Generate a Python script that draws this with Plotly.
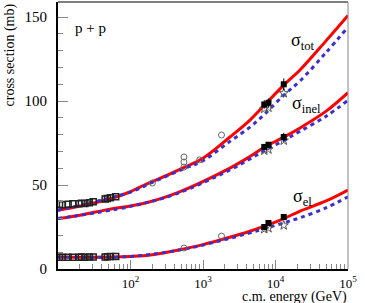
import plotly.graph_objects as go

# ---- model curves (sqrt(s) in GeV, cross sections in mb) ----
e_red_tot = [10, 20, 50, 100, 135, 200, 562, 1000, 2355, 4450, 7000, 13000, 21800, 50000, 100000]
red_tot = [35, 37.5, 41.5, 46, 48.8, 52, 60.7, 66, 78.6, 88.7, 97.5, 109.5, 118.5, 136, 151]
e_blue_tot = [10, 100, 200, 562, 1000, 2355, 4450, 7000, 13000, 21800, 50000, 100000]
blue_tot = [35, 45.8, 51.6, 60, 64.5, 76, 84.5, 92, 103.5, 112, 129, 144]

e_red_inel = [10, 20, 50, 100, 160, 430, 2355, 4450, 7000, 13000, 21800, 50000, 100000]
red_inel = [30, 32, 35.5, 37.5, 39.3, 45.2, 60.1, 67, 72.5, 78.5, 84, 94, 105]
e_blue_inel = [10, 100, 430, 2355, 4450, 7000, 13000, 21800, 50000, 100000]
blue_inel = [30, 37.3, 44.8, 59, 65.5, 70.5, 76.5, 82, 91, 100.5]

e_red_el = [10, 30, 100, 200, 546, 1000, 1800, 4450, 7000, 13000, 21800, 50000, 100000]
red_el = [7.2, 7.0, 7.5, 8.5, 12, 14.5, 17.5, 22.5, 25.5, 30, 34.5, 40.5, 47]
e_blue_el = [10, 100, 546, 1800, 4450, 7000, 13000, 21800, 50000, 100000]
blue_el = [7.2, 7.5, 11.8, 17, 21.5, 24, 27.5, 30.5, 36.5, 43]

# ---- data points ----
e_low = [10.5, 11.5, 13.8, 16, 19.4, 21, 23.5, 27, 30.6, 44.7, 48, 52.8, 62.5]
tot_low = [38.5, 38.3, 38.6, 38.8, 38.9, 39.2, 39.0, 39.5, 40.0, 41.7, 42.0, 42.4, 43.0]
el_low = [7.0, 7.0, 7.0, 7.0, 7.0, 7.1, 7.0, 7.1, 7.1, 7.2, 7.3, 7.4, 7.5]

e_coll_tot = [200, 546, 546, 546, 900, 1800]
coll_tot = [51.2, 60.7, 63.7, 66.7, 65, 79.8]
e_coll_el = [546, 1800]
coll_el = [12.5, 19.6]

e_lhc = [7000, 8000, 13000]
lhc_tot = [98, 99, 110]
lhc_tot_err = [2.5, 2.5, 3.5]
lhc_inel = [72.7, 74, 78.6]
lhc_inel_err = [1.5, 1.5, 2.5]
lhc_el = [25, 27.4, 31]
lhc_el_err = [1.0, 1.5, 1.5]

e_star = [7000, 8000, 13000]
star_tot = [95.4, 96.1, 104.7]
star_inel = [70.5, 71.2, 76.5]
star_el = [23.8, 24.3, 26.0]

xtick_vals = [100, 1000, 10000, 100000]
xtick_text = ["10<sup>2</sup>", "10<sup>3</sup>", "10<sup>4</sup>", "10<sup>5</sup>"]
ytick_vals = [0, 50, 100, 150]
ytick_text = ["0", "50", "100", "150"]

RED = "#ff0000"
BLUE = "#3a2fd0"
FONT = "Liberation Serif, Times New Roman, serif"

fig = go.Figure()

for ex, ys in [(e_red_tot, red_tot), (e_red_inel, red_inel), (e_red_el, red_el)]:
    fig.add_trace(go.Scatter(x=ex, y=ys, mode="lines", line=dict(color=RED, width=3, shape="spline"),
                             showlegend=False, hoverinfo="skip"))
for ex, ys in [(e_blue_tot, blue_tot), (e_blue_inel, blue_inel), (e_blue_el, blue_el)]:
    fig.add_trace(go.Scatter(x=ex, y=ys, mode="lines",
                             line=dict(color=BLUE, width=3, dash="4px,4px", shape="spline"),
                             showlegend=False, hoverinfo="skip"))

# low-energy squares
for ys in [tot_low, el_low]:
    fig.add_trace(go.Scatter(x=e_low, y=ys, mode="markers",
                             marker=dict(symbol="square-open", size=6, color="#222222", line=dict(width=1.5)),
                             showlegend=False))
# collider circles
for ex, ys in [(e_coll_tot, coll_tot), (e_coll_el, coll_el)]:
    fig.add_trace(go.Scatter(x=ex, y=ys, mode="markers",
                             marker=dict(symbol="circle-open", size=6, color="#666666", line=dict(width=1)),
                             showlegend=False))
# stars
for ys in [star_tot, star_inel, star_el]:
    fig.add_trace(go.Scatter(x=e_star, y=ys, mode="markers",
                             marker=dict(symbol="star-open", size=7, color="#555555", line=dict(width=1)),
                             showlegend=False))
# LHC squares
for ys, er in [(lhc_tot, lhc_tot_err), (lhc_inel, lhc_inel_err), (lhc_el, lhc_el_err)]:
    fig.add_trace(go.Scatter(x=e_lhc, y=ys, mode="markers",
                             marker=dict(symbol="square", size=6, color="black"),
                             error_y=dict(type="data", array=er, color="black", thickness=1, width=0),
                             showlegend=False))

L, R, T, B = 58, 17, 2, 34
W, H = 365, 303
pw, ph = W - L - R, H - T - B


def px(x):
    return (x - L) / pw


def py(y):
    return (H - B - y) / ph


minor_x = [m * 10 ** k for k in range(1, 5) for m in range(2, 10)]


def label(text, x, y, size, xanchor="left", yanchor="middle", angle=0):
    return dict(text=text, x=px(x), y=py(y), xref="paper", yref="paper", xanchor=xanchor,
                yanchor=yanchor, textangle=angle, showarrow=False, font=dict(family=FONT, size=size))


fig.update_layout(
    width=W, height=H,
    margin=dict(l=L, r=R, t=T, b=B, autoexpand=False),
    plot_bgcolor="white", paper_bgcolor="white",
    font=dict(family=FONT, size=14, color="black"),
    xaxis=dict(type="log", range=[1, 5], showgrid=False, zeroline=False,
               showline=True, linecolor="black", linewidth=2,
               ticks="inside", ticklen=9, tickwidth=1, tickcolor="#888888",
               tickvals=xtick_vals, ticktext=xtick_text,
               tickfont=dict(family=FONT, size=13),
               ticklabelstandoff=1,
               minor=dict(tickvals=minor_x, ticks="inside", ticklen=5, tickcolor="#888888", tickwidth=1)),
    yaxis=dict(range=[0, 159], showgrid=False, zeroline=False,
               showline=True, linecolor="black", linewidth=2,
               ticks="inside", ticklen=10, tickwidth=1, tickcolor="#888888",
               tickvals=ytick_vals, ticktext=ytick_text,
               tickfont=dict(family=FONT, size=15),
               ticklabelstandoff=6,
               minor=dict(dtick=10, ticks="inside", ticklen=5, tickcolor="#888888", tickwidth=1)),
    shapes=[
        dict(type="line", xref="paper", yref="paper", x0=0, x1=1, y0=1, y1=1, line=dict(color="#555555", width=1.5)),
        dict(type="line", xref="paper", yref="paper", x0=1, x1=1, y0=0, y1=1, line=dict(color="#888888", width=1)),
    ],
    annotations=[
        label("p + p", 90, 28, 15, xanchor="center"),
        label("σ<sub>tot</sub>", 289, 41, 18),
        label("σ<sub>inel</sub>", 290, 104, 18),
        label("σ<sub>el</sub>", 291, 197, 18),
        label("cross section (mb)", 9, 2, 14, xanchor="center", yanchor="top", angle=-90),
        label("c.m. energy (GeV)", 349, 297, 14, xanchor="right"),
    ],
)

fig.write_html("out.html", config={"displayModeBar": False},
               post_script="document.body.style.margin='0';document.body.style.overflow='hidden';")
